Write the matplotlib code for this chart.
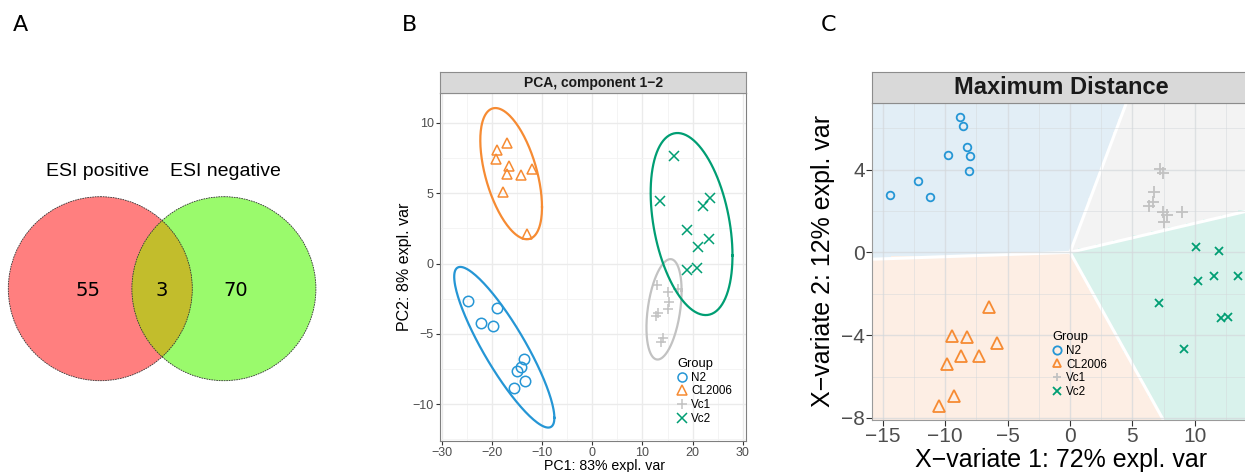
import numpy as np
import matplotlib.pyplot as plt
from matplotlib.patches import Circle
from matplotlib.lines import Line2D
from matplotlib.ticker import MultipleLocator

plt.rcParams['font.family'] = ['Liberation Sans', 'DejaVu Sans']

W, H = 1245, 472

# ---- panel A: Venn counts
venn_labels = ['ESI positive', 'ESI negative']
venn_counts = [55, 3, 70]  # positive only, shared, negative only

# ---- groups
groups = ['N2', 'CL2006', 'Vc1', 'Vc2']
colors = {'N2': '#2596d5', 'CL2006': '#f68b33', 'Vc1': '#c2c2c2', 'Vc2': '#009e73'}
region_colors = {'N2': '#e2eef6', 'CL2006': '#fdeee4', 'Vc1': '#f3f3f3', 'Vc2': '#d9f2ec'}
markers = {'N2': 'o', 'CL2006': '^', 'Vc1': '+', 'Vc2': 'x'}

# ---- panel B: PCA scores (component 1 vs 2)
pca_x = {
    'N2': [-24.8, -22.2, -19.7, -19.0, -13.7, -14.3, -15.1, -13.5, -15.5],
    'CL2006': [-19.0, -16.9, -19.1, -16.5, -16.9, -14.3, -12.0, -17.7, -13.1],
    'Vc1': [12.9, 15.0, 17.1, 15.2, 15.0, 13.0, 12.7, 14.1, 13.6],
    'Vc2': [16.2, 13.4, 22.0, 23.4, 18.8, 23.3, 21.1, 18.9, 20.9],
}
pca_y = {
    'N2': [-2.65, -4.25, -4.45, -3.19, -6.81, -7.34, -7.62, -8.38, -8.88],
    'CL2006': [8.1, 8.55, 7.43, 6.93, 6.34, 6.32, 6.70, 5.06, 2.12],
    'Vc1': [-1.5, -2.0, -1.8, -2.7, -3.2, -3.5, -3.7, -5.3, -5.6],
    'Vc2': [7.67, 4.42, 4.11, 4.64, 2.36, 1.74, 1.15, -0.46, -0.34],
}

# ---- panel C: PLS-DA scores, maximum distance regions
md_x = {
    'N2': [-14.44, -12.17, -11.21, -9.74, -8.81, -8.57, -8.27, -7.98, -8.11],
    'CL2006': [-6.46, -9.47, -8.25, -5.84, -8.70, -7.29, -9.87, -9.29, -10.51],
    'Vc1': [7.21, 7.42, 6.73, 6.30, 6.62, 7.47, 7.77, 7.53, 9.0],
    'Vc2': [10.09, 11.9, 10.22, 11.55, 13.48, 7.13, 12.06, 12.67, 9.15],
}
md_y = {
    'N2': [2.78, 3.46, 2.69, 4.72, 6.52, 6.10, 5.10, 4.65, 3.91],
    'CL2006': [-2.66, -4.03, -4.11, -4.38, -4.99, -5.01, -5.40, -6.93, -7.43],
    'Vc1': [4.01, 3.82, 2.90, 2.25, 2.44, 1.93, 1.80, 1.48, 1.95],
    'Vc2': [0.27, 0.06, -1.39, -1.13, -1.13, -2.47, -3.19, -3.14, -4.66],
}
# region boundaries (angle in degrees from origin) and the class that starts there
region_edges = [8.0, 58.0, 181.2, 312.7]
region_groups = ['Vc1', 'N2', 'CL2006', 'Vc2']

fig = plt.figure(figsize=(W / 100, H / 100), dpi=100)


def px_axes(x0, y0, x1, y1):
    return fig.add_axes([x0 / W, 1 - y1 / H, (x1 - x0) / W, (y1 - y0) / H])


def strip(x0, y0, x1, y1, title, size):
    s = px_axes(x0, y0, x1, y1)
    s.set_facecolor('#d9d9d9')
    s.set_xticks([])
    s.set_yticks([])
    for sp in s.spines.values():
        sp.set_color('#8c8c8c')
        sp.set_linewidth(0.8)
    s.text(0.5, 0.5, title, ha='center', va='center', fontsize=size,
           fontweight='bold', color='#1a1a1a', transform=s.transAxes)
    return s


# panel letters
for lab, x in [('A', 20), ('B', 410), ('C', 828)]:
    fig.text(x / W, 1 - 25 / H, lab, fontsize=16, ha='center', va='center',
             family=['DejaVu Sans'])

# ================= A: Venn =================
ax_a = px_axes(0, 0, 330, H)
ax_a.set_xlim(0, 330)
ax_a.set_ylim(H, 0)
ax_a.axis('off')
r = 92
cy = 288.7
c_left, c_right = 100.3, 223.9
left = Circle((c_left, cy), r, facecolor='#ff7f7f', edgecolor='none')
right = Circle((c_right, cy), r, facecolor='#9afa6c', edgecolor='none')
ax_a.add_patch(left)
ax_a.add_patch(right)
both = Circle((c_right, cy), r, facecolor='#c2bd2c', edgecolor='none')
ax_a.add_patch(both)
both.set_clip_path(left)
for c in (c_left, c_right):
    ax_a.add_patch(Circle((c, cy), r, facecolor='none', edgecolor='#333333',
                          lw=0.6, ls=(0, (2, 1))))
ax_a.text(97.5, 172, venn_labels[0], ha='center', va='center', fontsize=14)
ax_a.text(225, 172, venn_labels[1], ha='center', va='center', fontsize=14)
xa = (c_right - r + c_left + r) / 2
for txt, x in zip(venn_counts, [88.3, xa, 236]):
    ax_a.text(x, 290, str(txt), ha='center', va='center', fontsize=14,
              family=['DejaVu Sans'])

# ================= B: PCA =================
ax_b = px_axes(440, 93, 746, 441)
strip(440, 72, 746, 93, 'PCA, component 1\u22122', 10)
ax_b.set_xlim(-30.34, 30.62)
ax_b.set_ylim(-12.62, 12.13)
ax_b.xaxis.set_major_locator(MultipleLocator(10))
ax_b.xaxis.set_minor_locator(MultipleLocator(5))
ax_b.yaxis.set_major_locator(MultipleLocator(5))
ax_b.yaxis.set_minor_locator(MultipleLocator(2.5))
ax_b.grid(which='major', color='#ebebeb', lw=1.0)
ax_b.grid(which='minor', color='#f2f2f2', lw=0.6)
ax_b.set_axisbelow(True)
ax_b.tick_params(which='minor', length=0)
ax_b.tick_params(which='major', length=3, width=0.8, color='#333333',
                 labelcolor='#4d4d4d', labelsize=9, pad=1.5)
for sp in ax_b.spines.values():
    sp.set_color('#7f7f7f')
    sp.set_linewidth(0.8)

t = np.linspace(0, 2 * np.pi, 200)
chi = np.sqrt(5.991)
for g in groups:
    x = np.array(pca_x[g])
    y = np.array(pca_y[g])
    ax_b.plot(x, y, ls='none', marker=markers[g], ms=7.5 if g != 'Vc2' else 6.5,
              mfc='none', mec=colors[g], mew=1.1)
    L = np.linalg.cholesky(np.cov(x, y))
    pts = L @ np.vstack([np.cos(t), np.sin(t)]) * chi
    ax_b.plot(x.mean() + pts[0], y.mean() + pts[1], color=colors[g], lw=1.6)

ax_b.set_xlabel('PC1: 83% expl. var', fontsize=10.2)
ax_b.xaxis.set_label_coords((605 - 440) / 306, -0.052)
ax_b.set_ylabel('PC2: 8% expl. var', fontsize=11.5)
ax_b.yaxis.set_label_coords(-0.09, 0.5)

handles = [Line2D([], [], ls='none', marker=markers[g], mfc='none', mec=colors[g],
                  mew=1.1, ms=6.5) for g in groups]
leg = ax_b.legend(handles, groups, title='Group', loc='upper left',
                  bbox_to_anchor=(677 / W, 1 - 358 / H), bbox_transform=fig.transFigure,
                  frameon=False, fontsize=8.4, title_fontsize=9.3, handlelength=0.9,
                  handletextpad=0.3, labelspacing=0.15, borderpad=0, borderaxespad=0,
                  alignment='left')

# ================= C: Maximum distance =================
ax_c = px_axes(872.3, 102.7, 1250, 420)
strip(872.3, 72, 1250, 102.7, 'Maximum Distance', 17)
xlim = (-15.83, 14.41)
ylim = (-8.10, 7.23)
ax_c.set_xlim(*xlim)
ax_c.set_ylim(*ylim)

gx = np.arange(xlim[0], xlim[1] + 0.2, 0.2)
gy = np.arange(ylim[0], ylim[1] + 0.2, 0.2)
GX, GY = np.meshgrid(gx, gy)
ang = np.degrees(np.arctan2(GY, GX)) % 360
idx = np.searchsorted(region_edges, ang, side='right') - 1
idx[idx < 0] = len(region_edges) - 1
rgb = np.array([plt.matplotlib.colors.to_rgb(region_colors[g]) for g in region_groups])
ax_c.imshow(rgb[idx], origin='lower', extent=(gx[0] - 0.1, gx[-1] + 0.1, gy[0] - 0.1, gy[-1] + 0.1),
            interpolation='nearest', aspect='auto', zorder=0)
for a in region_edges:
    ax_c.plot([0, 40 * np.cos(np.radians(a))], [0, 40 * np.sin(np.radians(a))],
              color='white', lw=2.2, zorder=0.4)

ax_c.xaxis.set_major_locator(MultipleLocator(5))
ax_c.xaxis.set_minor_locator(MultipleLocator(2.5))
ax_c.yaxis.set_major_locator(MultipleLocator(4))
ax_c.yaxis.set_minor_locator(MultipleLocator(2))
ax_c.grid(which='major', color='#d4d8db', lw=1.0, alpha=0.7)
ax_c.grid(which='minor', color='#d4d8db', lw=0.7, alpha=0.5)
ax_c.set_axisbelow(True)
ax_c.tick_params(which='minor', length=0)
ax_c.tick_params(which='major', length=4, width=0.8, color='#333333',
                 labelcolor='#4d4d4d', labelsize=15, pad=1)
for sp in ax_c.spines.values():
    sp.set_color('#9a9a9a')
    sp.set_linewidth(0.8)

for g in groups:
    ms = {'N2': 5.5, 'CL2006': 8.5, 'Vc1': 8, 'Vc2': 6}[g]
    ax_c.plot(md_x[g], md_y[g], ls='none', marker=markers[g], ms=ms,
              mfc='none', mec=colors[g], mew=1.3, zorder=3)

ax_c.set_xlabel('X\u2212variate 1: 72% expl. var', fontsize=18)
ax_c.xaxis.set_label_coords(0.4996, -0.088)
ax_c.set_ylabel('X\u2212variate 2: 12% expl. var', fontsize=18)
ax_c.yaxis.set_label_coords(-0.1, 0.5)

handles = [Line2D([], [], ls='none', marker=markers[g], mfc='none', mec=colors[g],
                  mew=1.3, ms=6) for g in groups]
ax_c.legend(handles, groups, title='Group', loc='upper left',
            bbox_to_anchor=(1052 / W, 1 - 331 / H), bbox_transform=fig.transFigure,
            frameon=False, fontsize=8.4, title_fontsize=9.3, handlelength=0.9,
            handletextpad=0.3, labelspacing=0.15, borderpad=0, borderaxespad=0,
            alignment='left')

fig.savefig('out.png', dpi=100)
